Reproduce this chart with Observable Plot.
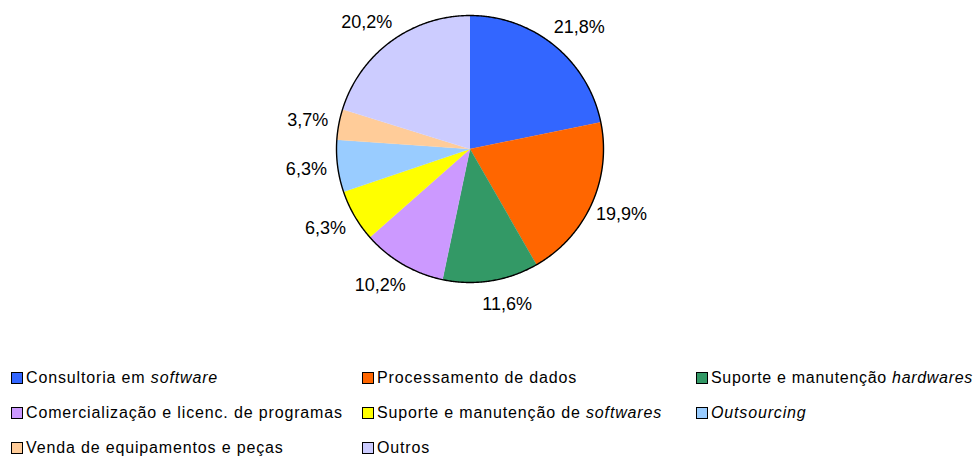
<!DOCTYPE html>
<html>
<head>
<meta charset="utf-8">
<script src="https://cdn.jsdelivr.net/npm/d3@7"></script>
<script src="https://cdn.jsdelivr.net/npm/@observablehq/plot@0.6"></script>
<style>
  html, body { margin: 0; padding: 0; background: #fff; }
  #chart svg { display: block; }
  #legend {
    display: grid;
    grid-template-columns: 351px 334px 280px;
    grid-auto-rows: 35px;
    padding-left: 11px;
    font-family: "Liberation Sans", Arial, sans-serif;
    font-size: 16px;
    letter-spacing: 0.85px;
    color: #000;
  }
  .item { display: flex; align-items: center; white-space: nowrap; }
  .sw { width: 10px; height: 10px; border: 1px solid #000; margin-right: 3px; flex: none; }
  .item:nth-child(3) { letter-spacing: 0.7px; }
</style>
</head>
<body>
<div id="chart"></div>
<div id="legend"></div>
<script>
const categories = [
  "Consultoria em software",
  "Processamento de dados",
  "Suporte e manutenção hardwares",
  "Comercialização e licenc. de programas",
  "Suporte e manutenção de softwares",
  "Outsourcing",
  "Venda de equipamentos e peças",
  "Outros"
];
const italicParts = ["software", "", "hardwares", "", "softwares", "Outsourcing", "", ""];
const values = [21.8, 19.9, 11.6, 10.2, 6.3, 6.3, 3.7, 20.2];
const colors = ["#3366FF", "#FF6600", "#339966", "#CC99FF", "#FFFF00", "#99CCFF", "#FFCC99", "#CCCCFF"];

const W = 976, H = 360, cx = 469.5, cy = 148.5, R = 133.5;

const pie = d3.pie().sort(null).value(d => d.value)(categories.map((name, i) => ({name, value: values[i]})));

// slice polygons in unit-circle data space (angle measured clockwise from top)
const slicePts = [];
pie.forEach(p => {
  slicePts.push({name: p.data.name, x: 0, y: 0});
  const n = Math.max(2, Math.ceil((p.endAngle - p.startAngle) / 0.005));
  for (let k = 0; k <= n; k++) {
    const a = p.startAngle + (p.endAngle - p.startAngle) * k / n;
    slicePts.push({name: p.data.name, x: Math.sin(a), y: Math.cos(a)});
  }
});
const circlePts = d3.range(0, 721).map(k => {
  const a = k / 720 * 2 * Math.PI;
  return {x: Math.sin(a), y: Math.cos(a)};
});
const labelPts = pie.map(p => {
  const a = (p.startAngle + p.endAngle) / 2;
  const s = Math.sin(a), c = Math.cos(a);
  return {x: 1.135 * s + 0.1 * Math.sign(s), y: 1.18 * c,
    text: d3.format(".1f")(p.data.value).replace(".", ",") + "%"};
});

const chart = Plot.plot({
  width: W, height: H,
  margin: 0,
  x: {domain: [-cx / R, (W - cx) / R], axis: null},
  y: {domain: [-(H - cy) / R, cy / R], axis: null},
  color: {domain: categories, range: colors},
  marks: [
    Plot.line(slicePts, {x: "x", y: "y", z: "name", fill: "name", stroke: "name", strokeWidth: 0.3}),
    Plot.line(circlePts, {x: "x", y: "y", stroke: "#000", strokeWidth: 1.4}),
    Plot.text(labelPts, {x: "x", y: "y", text: "text", fontSize: 18, fill: "#000",
      textAnchor: "middle", lineAnchor: "middle", fontFamily: "Liberation Sans, Arial, sans-serif"})
  ]
});
document.getElementById("chart").append(chart);

const legend = document.getElementById("legend");
categories.forEach((name, i) => {
  const item = document.createElement("div");
  item.className = "item";
  const sw = document.createElement("span");
  sw.className = "sw";
  sw.style.background = colors[i];
  item.append(sw);
  const label = document.createElement("span");
  const it = italicParts[i];
  if (it) {
    const idx = name.indexOf(it);
    label.append(document.createTextNode(name.slice(0, idx)));
    const em = document.createElement("i");
    em.textContent = it;
    label.append(em);
    label.append(document.createTextNode(name.slice(idx + it.length)));
  } else {
    label.textContent = name;
  }
  item.append(label);
  legend.append(item);
});
</script>
</body>
</html>
